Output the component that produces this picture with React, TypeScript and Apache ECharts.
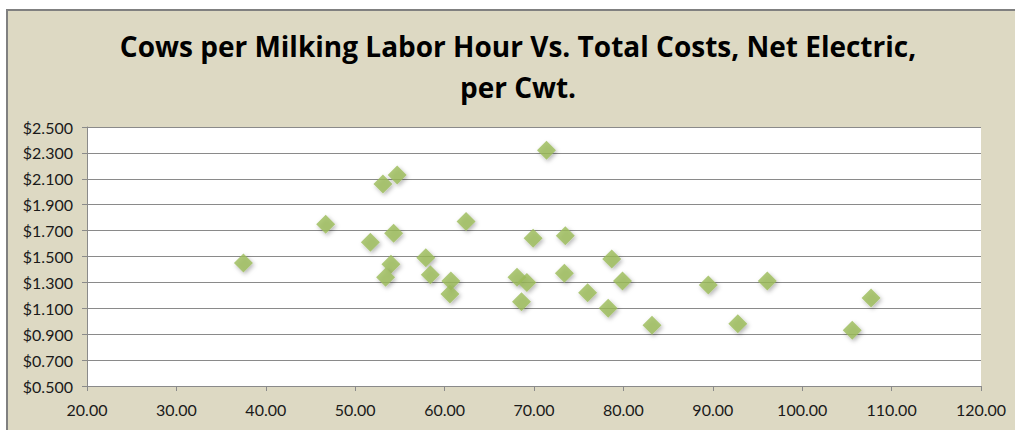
import React, { useEffect, useRef } from "react";
import * as echarts from "echarts";

const titleText = "Cows per Milking Labor Hour Vs. Total Costs, Net Electric,\nper Cwt.";

const cowsPerHour = [
  37.5, 46.7, 53.1, 54.7, 51.7, 54.3, 54.0, 53.4, 62.4, 57.9,
  58.4, 60.7, 60.6, 71.4, 69.9, 73.5, 68.1, 69.2, 68.6, 73.4,
  78.7, 79.9, 76.0, 78.3, 83.2, 89.5, 96.1, 92.8, 105.6, 107.7,
];

const costPerCwt = [
  1.45, 1.75, 2.06, 2.13, 1.61, 1.68, 1.44, 1.34, 1.77, 1.49,
  1.36, 1.31, 1.21, 2.32, 1.64, 1.66, 1.34, 1.30, 1.15, 1.37,
  1.48, 1.31, 1.22, 1.10, 0.97, 1.28, 1.31, 0.98, 0.93, 1.18,
];

const xMin = 20;
const xMax = 120;
const xStep = 10;
const yMin = 0.5;
const yMax = 2.5;
const yStep = 0.2;

export default function App() {
  const ref = useRef<HTMLDivElement>(null);

  useEffect(() => {
    if (!ref.current) return;
    const chart = echarts.init(ref.current, undefined, { renderer: "svg" });
    const points = cowsPerHour.map((x, i) => [x, costPerCwt[i]]);
    const gridColor = "#8a8a8a";
    const labelFont = "Lato, 'Open Sans', sans-serif";
    chart.setOption({
      animation: false,
      backgroundColor: "#ffffff",
      graphic: [
        {
          type: "rect",
          z: -10,
          shape: { x: 7, y: 10, width: 1015, height: 430 },
          style: { fill: "#ddd9c3", stroke: "#808080", lineWidth: 2 },
          silent: true,
        },
      ],
      title: {
        text: titleText,
        left: 513,
        top: 20,
        textAlign: "center",
        textStyle: {
          fontFamily: "'Open Sans', sans-serif",
          fontWeight: "bold",
          fontSize: 28,
          lineHeight: 41,
          color: "#000000",
          align: "center",
        },
      },
      grid: {
        left: 87,
        right: 34,
        top: 127,
        bottom: 44,
        show: true,
        backgroundColor: "#ffffff",
        borderWidth: 0,
      },
      xAxis: {
        type: "value",
        min: xMin,
        max: xMax,
        interval: xStep,
        axisLine: { show: true, lineStyle: { color: gridColor, width: 1 } },
        axisTick: { show: true, length: 5, lineStyle: { color: gridColor } },
        splitLine: { show: false },
        axisLabel: {
          color: "#1a1a1a",
          fontFamily: labelFont,
          fontSize: 16,
          margin: 15,
          formatter: (v: number) => v.toFixed(2),
        },
      },
      yAxis: {
        type: "value",
        min: yMin,
        max: yMax,
        interval: yStep,
        axisLine: { show: true, lineStyle: { color: gridColor, width: 1 } },
        axisTick: { show: true, length: 5, lineStyle: { color: gridColor } },
        splitLine: { show: true, lineStyle: { color: gridColor, width: 1 } },
        axisLabel: {
          color: "#1a1a1a",
          fontFamily: labelFont,
          fontSize: 16,
          margin: 14,
          formatter: (v: number) => "$" + v.toFixed(3),
        },
      },
      series: [
        {
          type: "scatter",
          data: points,
          symbol: "diamond",
          symbolSize: [19, 19],
          itemStyle: {
            color: "#9bbb59",
            shadowBlur: 4,
            shadowColor: "rgba(0,0,0,0.35)",
            shadowOffsetX: 1.5,
            shadowOffsetY: 2,
          },
        },
      ],
    });
    return () => chart.dispose();
  }, []);

  return (
    <div
      ref={ref}
      style={{ position: "fixed", left: 0, top: 0, width: 1015, height: 430 }}
    />
  );
}
